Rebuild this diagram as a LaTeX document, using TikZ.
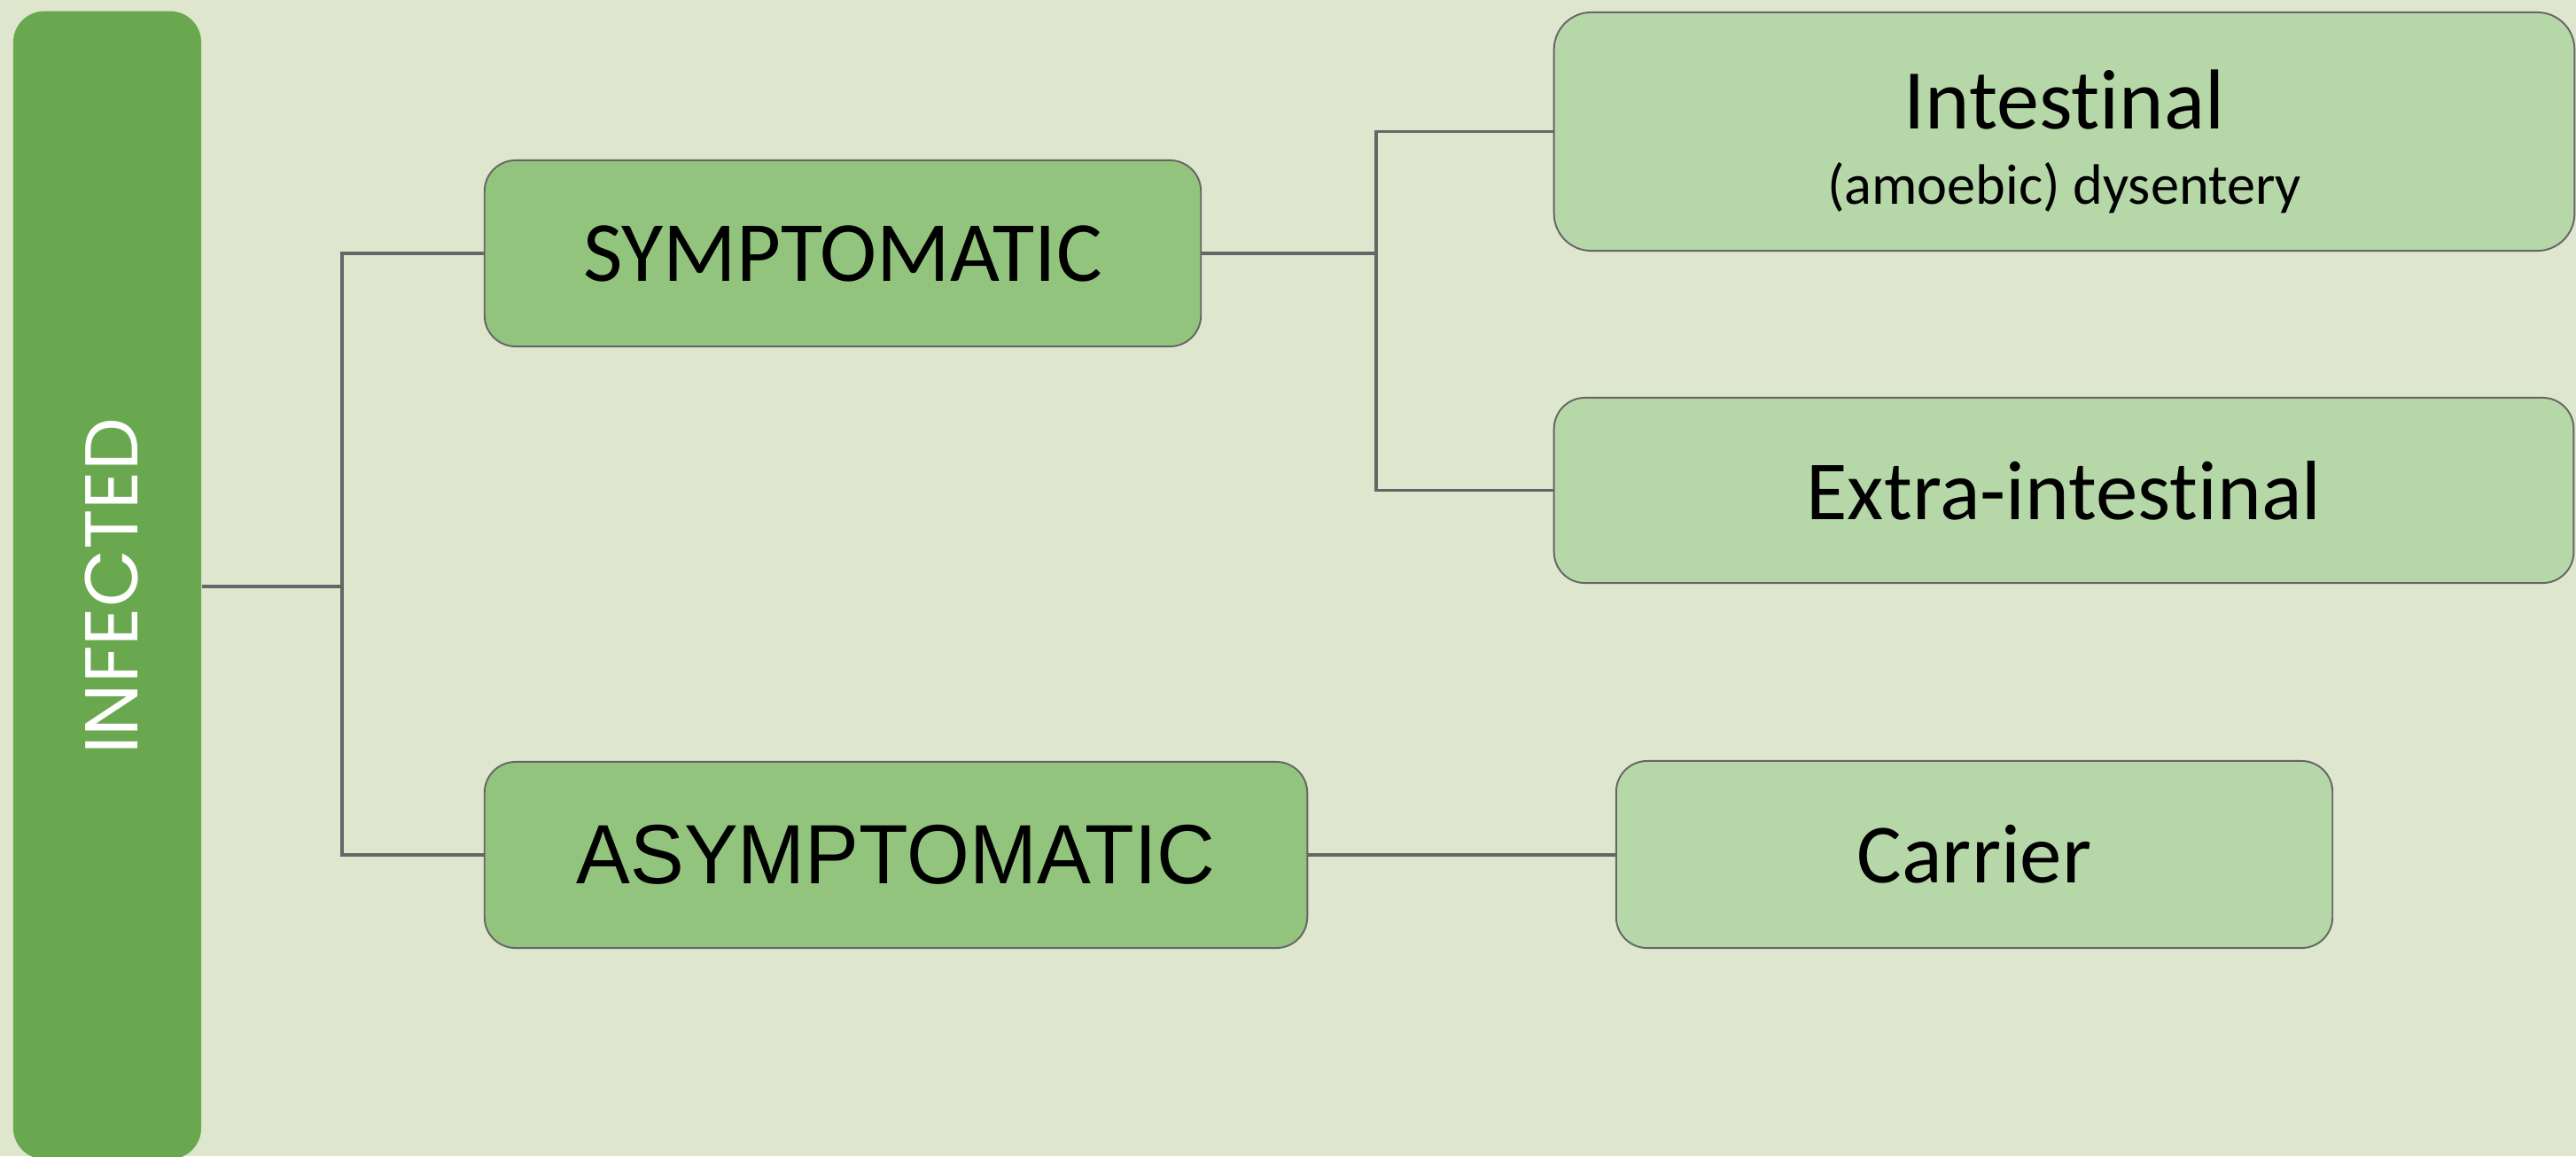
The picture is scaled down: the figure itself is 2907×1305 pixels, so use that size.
\documentclass[tikz,border=0pt]{standalone}
\usepackage{fontspec}
\setmainfont[Ligatures=NoCommon]{Carlito}
\newfontfamily\arialf{Liberation Sans}
\newfontfamily\geof{Poppins}
\definecolor{bgc}{HTML}{DFE6CE}
\definecolor{darkg}{HTML}{6AA84F}
\definecolor{midg}{HTML}{93C47D}
\definecolor{lightg}{HTML}{B6D7A8}
\definecolor{linec}{HTML}{666666}
\begin{document}
\begin{tikzpicture}[x=0.01cm,y=-0.01cm,
  boxbase/.style={rectangle,rounded corners=0.35cm,draw=linec,line width=0.55pt,inner sep=0pt,text=black},
  midbox/.style={boxbase,fill=midg},
  leafbox/.style={boxbase,fill=lightg},
  conn/.style={draw=linec,line width=1pt,line join=miter}]
\fill[bgc] (0,0) rectangle (2907,1305);
\useasboundingbox (0,0) rectangle (2907,1305);
\node[rectangle,rounded corners=0.35cm,fill=darkg,minimum width=2.12cm,minimum height=12.95cm,inner sep=0pt] (inf) at (121,660.5) {};
\node[text=white,rotate=90,inner sep=0pt] (inftext) at (126,662) {\geof\fontsize{24}{28}\selectfont INFECTED};
\node[midbox,minimum width=8.08cm,minimum height=2.10cm] (sym) at (951,286) {\fontsize{27.5}{32}\selectfont SYMPTOMATIC};
\node[midbox,minimum width=9.28cm,minimum height=2.10cm] (asym) at (1011,965) {\scalebox{0.96}[1]{\arialf\fontsize{27}{32}\selectfont ASYMPTOMATIC}};
\node[leafbox,rounded corners=0.42cm,minimum width=11.51cm,minimum height=2.69cm] (int) at (2329.5,148.5) {};
\node[anchor=base,inner sep=0pt] (inttitle) at (2329.5,145) {\fontsize{27.3}{32}\selectfont Intestinal};
\node[anchor=base,inner sep=0pt] (intsub) at (2329.5,230) {\fontsize{18.3}{22}\selectfont (amoebic) dysentery};
\node[leafbox,minimum width=11.50cm,minimum height=2.09cm] (ext) at (2329,553.5) {\fontsize{27}{32}\selectfont Extra-intestinal};
\node[leafbox,minimum width=8.08cm,minimum height=2.11cm] (car) at (2228,964.5) {\fontsize{27}{32}\selectfont Carrier};
\coordinate (s1) at (386,662);
\coordinate (s2) at (1553,286);
\draw[conn] (inf.east |- s1) -- (s1);
\draw[conn] (sym.west) -| (s1) |- (asym.west);
\draw[conn] (sym.east) -- (s2);
\draw[conn] (int.west) -| (s2) |- (ext.west);
\draw[conn] (asym.east) -- (car.west |- asym.east);
\end{tikzpicture}
\end{document}
